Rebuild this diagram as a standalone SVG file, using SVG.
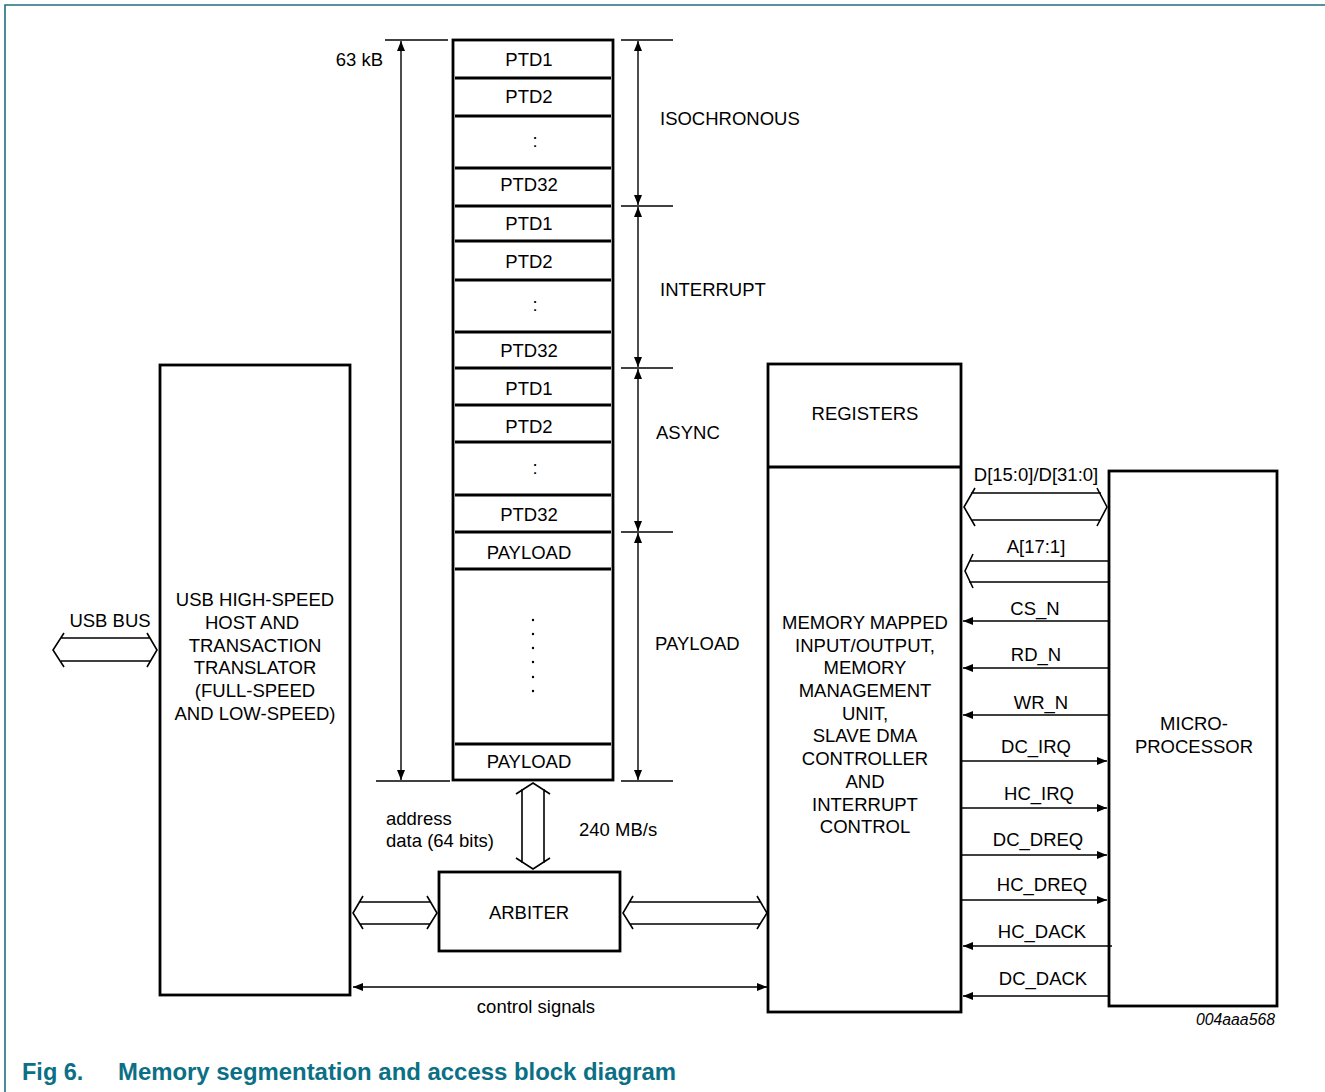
<svg xmlns="http://www.w3.org/2000/svg" width="1325" height="1092" viewBox="0 0 1325 1092">
<style>
text{font-family:"Liberation Sans",Arial,sans-serif;font-size:18.5px;fill:#000}
.c{text-anchor:middle}
.box{fill:#fff;stroke:#000;stroke-width:2.8}
.row{stroke:#000;stroke-width:3}
.dim{stroke:#000;stroke-width:1.4;fill:none}
.sig{stroke:#000;stroke-width:1.4;fill:none}
.hol{stroke:#000;stroke-width:1.6;fill:none}
.cap{font-size:23.5px;font-weight:bold;fill:#0b6f86}
</style>
<defs>
<marker id="ah" viewBox="0 0 10 8" refX="10" refY="4" markerWidth="10" markerHeight="8" markerUnits="userSpaceOnUse" orient="auto-start-reverse">
<path d="M0,0 L10,4 L0,8 z" fill="#000"/>
</marker>
</defs>
<rect width="1325" height="1092" fill="#fff"/>
<path d="M5,1092 V5 H1325" fill="none" stroke="#1f6f7f" stroke-width="1.6"/>

<g id="memory">
<rect class="box" x="453" y="40" width="160" height="740" stroke-width="3"/>
<g class="row">
<line x1="455" y1="78" x2="611" y2="78"/>
<line x1="455" y1="116" x2="611" y2="116"/>
<line x1="455" y1="168" x2="611" y2="168"/>
<line x1="455" y1="206" x2="611" y2="206"/>
<line x1="455" y1="241" x2="611" y2="241"/>
<line x1="455" y1="280" x2="611" y2="280"/>
<line x1="455" y1="332" x2="611" y2="332"/>
<line x1="455" y1="368" x2="611" y2="368"/>
<line x1="455" y1="405" x2="611" y2="405"/>
<line x1="455" y1="442" x2="611" y2="442"/>
<line x1="455" y1="495" x2="611" y2="495"/>
<line x1="455" y1="532" x2="611" y2="532"/>
<line x1="455" y1="569" x2="611" y2="569"/>
<line x1="455" y1="744" x2="611" y2="744"/>
</g>
<text class="c" x="529" y="66">PTD1</text>
<text class="c" x="529" y="103">PTD2</text>
<text class="c" x="535" y="147">:</text>
<text class="c" x="529" y="191">PTD32</text>
<text class="c" x="529" y="230">PTD1</text>
<text class="c" x="529" y="268">PTD2</text>
<text class="c" x="535" y="311">:</text>
<text class="c" x="529" y="357">PTD32</text>
<text class="c" x="529" y="395">PTD1</text>
<text class="c" x="529" y="433">PTD2</text>
<text class="c" x="535" y="474">:</text>
<text class="c" x="529" y="521">PTD32</text>
<text class="c" x="529" y="559">PAYLOAD</text>
<g fill="#000">
<circle cx="533" cy="620" r="1.2"/><circle cx="533" cy="634" r="1.2"/><circle cx="533" cy="648" r="1.2"/>
<circle cx="533" cy="662" r="1.2"/><circle cx="533" cy="677" r="1.2"/><circle cx="533" cy="691" r="1.2"/>
</g>
<text class="c" x="529" y="768">PAYLOAD</text>
</g>

<g id="usb-host">
<rect class="box" x="160" y="365" width="190" height="630"/>
<text class="c" x="255" y="606">USB HIGH-SPEED</text>
<text class="c" x="252" y="629">HOST AND</text>
<text class="c" x="255" y="652">TRANSACTION</text>
<text class="c" x="255" y="674">TRANSLATOR</text>
<text class="c" x="255" y="697">(FULL-SPEED</text>
<text class="c" x="255" y="720">AND LOW-SPEED)</text>
</g>

<g id="mmu">
<rect class="box" x="768" y="364" width="193" height="648"/>
<line x1="768" y1="467" x2="961" y2="467" stroke="#000" stroke-width="2.8"/>
<text class="c" x="865" y="420">REGISTERS</text>
<text class="c" x="865" y="629">MEMORY MAPPED</text>
<text class="c" x="865" y="652">INPUT/OUTPUT,</text>
<text class="c" x="865" y="674">MEMORY</text>
<text class="c" x="865" y="697">MANAGEMENT</text>
<text class="c" x="865" y="720">UNIT,</text>
<text class="c" x="865" y="742">SLAVE DMA</text>
<text class="c" x="865" y="765">CONTROLLER</text>
<text class="c" x="865" y="788">AND</text>
<text class="c" x="865" y="811">INTERRUPT</text>
<text class="c" x="865" y="833">CONTROL</text>
</g>

<g id="microprocessor">
<rect class="box" x="1109" y="471" width="168" height="535"/>
<text class="c" x="1194" y="730">MICRO-</text>
<text class="c" x="1194" y="753">PROCESSOR</text>
</g>

<g id="arbiter">
<rect class="box" x="439" y="872" width="181" height="79"/>
<text class="c" x="529" y="919">ARBITER</text>
</g>

<g id="connectors">
<line class="dim" x1="385" y1="40" x2="448" y2="40"/>
<line class="dim" x1="376" y1="781" x2="450" y2="781"/>
<line class="dim" x1="401" y1="41" x2="401" y2="780" marker-start="url(#ah)" marker-end="url(#ah)"/>
<line class="dim" x1="621" y1="40" x2="673" y2="40"/>
<line class="dim" x1="621" y1="206" x2="673" y2="206"/>
<line class="dim" x1="621" y1="368" x2="673" y2="368"/>
<line class="dim" x1="621" y1="532" x2="673" y2="532"/>
<line class="dim" x1="621" y1="781" x2="673" y2="781"/>
<line class="dim" x1="638" y1="41" x2="638" y2="205" marker-start="url(#ah)" marker-end="url(#ah)"/>
<line class="dim" x1="638" y1="207" x2="638" y2="367" marker-start="url(#ah)" marker-end="url(#ah)"/>
<line class="dim" x1="638" y1="369" x2="638" y2="531" marker-start="url(#ah)" marker-end="url(#ah)"/>
<line class="dim" x1="638" y1="533" x2="638" y2="780" marker-start="url(#ah)" marker-end="url(#ah)"/>

<path class="hol" d="M64,633 L53,650 L64,667 M147,633 L157,650 L147,667 M61,638 H150 M61,661 H150"/>
<path class="hol" d="M516,794 L533,783 L550,794 M516,858 L533,869 L550,858 M522,789 V863 M544,789 V863"/>
<path class="hol" d="M363,896 L353,913 L363,929 M427,896 L437,913 L427,929 M360,902 H430 M360,924 H430"/>
<path class="hol" d="M633,896 L623,913 L633,929 M757,896 L767,913 L757,929 M630,902 H760 M630,924 H760"/>
<path class="hol" d="M975,488 L964,507 L975,526 M1097,488 L1107,507 L1097,526 M971,493 H1101 M971,520 H1101"/>
<path class="hol" d="M973,554 L965,571 L973,588 M1108,561 H969 M1108,582 H969"/>

<line class="sig" x1="353" y1="987" x2="767" y2="987" marker-start="url(#ah)" marker-end="url(#ah)"/>

<line class="sig" x1="1110" y1="621" x2="963" y2="621" marker-end="url(#ah)"/>
<line class="sig" x1="1110" y1="668" x2="963" y2="668" marker-end="url(#ah)"/>
<line class="sig" x1="1110" y1="715" x2="963" y2="715" marker-end="url(#ah)"/>
<line class="sig" x1="961" y1="761" x2="1107" y2="761" marker-end="url(#ah)"/>
<line class="sig" x1="961" y1="808" x2="1107" y2="808" marker-end="url(#ah)"/>
<line class="sig" x1="961" y1="855" x2="1107" y2="855" marker-end="url(#ah)"/>
<line class="sig" x1="961" y1="900" x2="1107" y2="900" marker-end="url(#ah)"/>
<line class="sig" x1="1112" y1="946" x2="963" y2="946" marker-end="url(#ah)"/>
<line class="sig" x1="1110" y1="996" x2="963" y2="996" marker-end="url(#ah)"/>
</g>

<g id="labels">
<text x="383" y="66" text-anchor="end">63 kB</text>
<text x="660" y="125">ISOCHRONOUS</text>
<text x="660" y="296">INTERRUPT</text>
<text x="656" y="439">ASYNC</text>
<text x="655" y="650">PAYLOAD</text>
<text class="c" x="110" y="627">USB BUS</text>
<text x="386" y="825">address</text>
<text x="386" y="847">data (64 bits)</text>
<text x="579" y="836">240 MB/s</text>
<text class="c" x="536" y="1013">control signals</text>
<text class="c" x="1036" y="481">D[15:0]/D[31:0]</text>
<text class="c" x="1036" y="553">A[17:1]</text>
<text class="c" x="1035" y="615">CS_N</text>
<text class="c" x="1036" y="661">RD_N</text>
<text class="c" x="1041" y="709">WR_N</text>
<text class="c" x="1036" y="753">DC_IRQ</text>
<text class="c" x="1039" y="800">HC_IRQ</text>
<text class="c" x="1038" y="846">DC_DREQ</text>
<text class="c" x="1042" y="891">HC_DREQ</text>
<text class="c" x="1042" y="938">HC_DACK</text>
<text class="c" x="1043" y="985">DC_DACK</text>
<text x="1275" y="1025" text-anchor="end" style="font-size:15.8px;font-style:italic">004aaa568</text>
<text class="cap" x="22" y="1080">Fig 6.</text>
<text class="cap" x="118" y="1080" textLength="558" lengthAdjust="spacingAndGlyphs">Memory segmentation and access block diagram</text>
</g>
</svg>
